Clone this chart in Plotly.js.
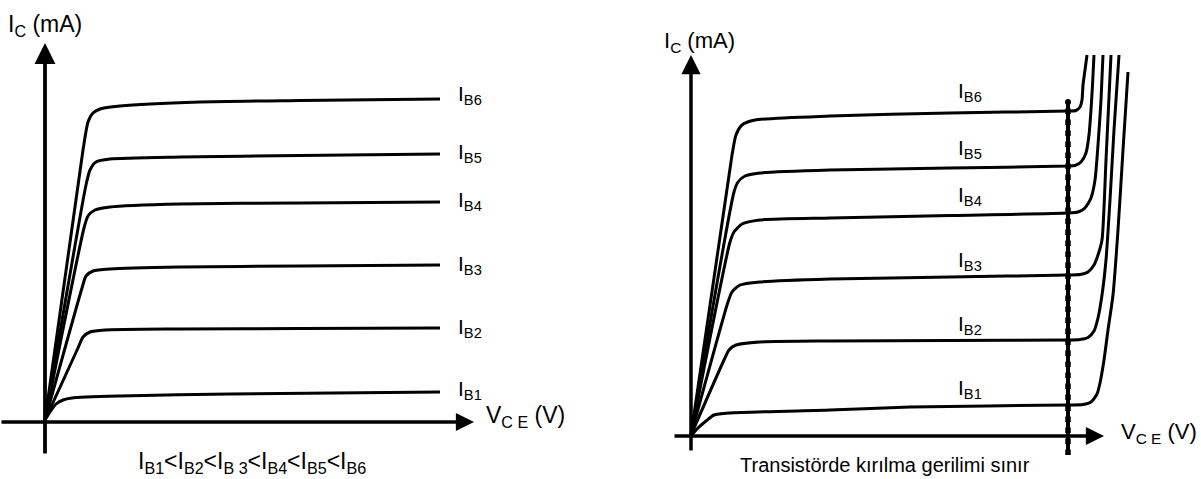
<!DOCTYPE html>
<html>
<head>
<meta charset="utf-8">
<script src="https://cdn.plot.ly/plotly-3.0.1.min.js"></script>
<style>html,body{margin:0;padding:0;background:#fff;}#chart{width:1201px;height:479px;}</style>
</head>
<body>
<div id="chart"></div>
<script>
// ---- Data (schematic units; origin of each chart = 0,0) ----
// Left chart: output characteristics (V_CE vs I_C) for six base currents
const curveNames = ["B1", "B2", "B3", "B4", "B5", "B6"];

const leftB1x = [0, 5, 11, 18, 27, 75, 185, 395];
const leftB1y = [1, 9, 17, 21, 23, 25, 27, 29];
const leftB2x = [0, 33, 38, 45, 60, 135, 255, 395];
const leftB2y = [1, 73, 84, 89, 91, 92, 92.5, 93];
const leftB3x = [0, 37, 41, 48, 65, 135, 255, 395];
const leftB3y = [1, 133, 145, 150, 152, 154, 155, 156];
const leftB4x = [0, 39, 43, 50, 65, 135, 255, 395];
const leftB4y = [1, 193, 205, 211, 214, 217, 218, 219];
const leftB5x = [0, 41, 45, 51, 65, 135, 255, 395];
const leftB5y = [1, 236, 251, 259, 262, 264, 265.5, 267];
const leftB6x = [0, 38, 43, 48, 55, 75, 155, 255, 395];
const leftB6y = [1, 271, 299, 308, 312, 315, 319, 320.5, 322];

// Right chart: same family with breakdown region
const rightB1x = [0, 7, 15, 23, 39, 139, 219, 377, 392, 400, 406, 409, 413, 417, 422, 427, 432, 437];
const rightB1y = [0, 8, 15, 21, 23, 26, 29, 31, 31.5, 34, 42, 53, 76, 106, 141, 206, 286, 364];
const rightB2x = [0, 33, 38, 45, 69, 139, 259, 377, 389, 397, 403, 407, 411, 415, 419, 423, 428];
const rightB2y = [1, 76, 86, 91, 94, 95, 95.5, 96, 96.5, 98.5, 105, 118, 141, 176, 236, 306, 381];
const rightB3x = [0, 37, 41, 49, 69, 139, 259, 377, 389, 397, 403, 407, 411, 415, 420];
const rightB3y = [1, 134, 144, 151, 154, 157, 159, 161, 161.5, 164, 171, 181, 196, 276, 381];
const rightB4x = [0, 39, 43, 51, 69, 139, 259, 377, 387, 394, 400, 404, 407, 410, 412];
const rightB4y = [1, 194, 204, 212, 216, 218, 220.5, 223, 224, 228, 238, 256, 291, 336, 381];
const rightB5x = [0, 43, 47, 54, 69, 139, 259, 377, 384, 390, 395, 398, 400, 401.5, 403];
const rightB5y = [1, 244, 254, 260, 263, 266, 268, 270, 270.5, 274, 283, 301, 326, 351, 381];
const rightB6x = [0, 41, 45, 51, 64, 139, 259, 377, 385, 389, 391, 392, 394, 396];
const rightB6y = [1, 281, 301, 311, 316, 320, 323, 325, 325.5, 329, 336, 351, 366, 381];

// Curve label positions
const leftLabelX = 411;
const leftLabelY = [31, 93, 156, 220, 268, 326];
const rightLabelX = 265;
const rightLabelY = [47, 111, 175, 240, 287, 344];

// Breakdown voltage limit (right chart)
const breakdownX = 377;
const breakdownY = [-19, 334];

// Texts
const yTitle = "I<sub>C</sub> (mA)";
const xTitle = "V<sub>C E</sub> (V)";
const leftNote = "I<sub>B1</sub>&lt;I<sub>B2</sub>&lt;I<sub>B 3</sub>&lt;I<sub>B4</sub>&lt;I<sub>B5</sub>&lt;I<sub>B6</sub>";
const rightNote = "Transistörde kırılma gerilimi sınır";

// ---- Build ----
const FONT = "Liberation Sans, Arial, sans-serif";
const leftX = [leftB1x, leftB2x, leftB3x, leftB4x, leftB5x, leftB6x];
const leftY = [leftB1y, leftB2y, leftB3y, leftB4y, leftB5y, leftB6y];
const rightX = [rightB1x, rightB2x, rightB3x, rightB4x, rightB5x, rightB6x];
const rightY = [rightB1y, rightB2y, rightB3y, rightB4y, rightB5y, rightB6y];

const traces = [];
for (let i = 0; i < 6; i++) {
  traces.push({x: leftX[i], y: leftY[i], xaxis: "x", yaxis: "y", mode: "lines",
    line: {color: "#000", width: 3, shape: "spline", smoothing: 0.6}, hoverinfo: "skip"});
  traces.push({x: rightX[i], y: rightY[i], xaxis: "x2", yaxis: "y2", mode: "lines",
    line: {color: "#000", width: 3, shape: "spline", smoothing: 0.6}, hoverinfo: "skip"});
}
// breakdown line: solid core + beaded outline
traces.push({x: [breakdownX, breakdownX], y: breakdownY, xaxis: "x2", yaxis: "y2", mode: "lines",
  line: {color: "#000", width: 4}, hoverinfo: "skip"});
traces.push({x: [breakdownX, breakdownX], y: breakdownY, xaxis: "x2", yaxis: "y2", mode: "lines",
  line: {color: "#000", width: 5.5, dash: "dot"}, hoverinfo: "skip"});
traces.push({x: [breakdownX], y: [breakdownY[1]], xaxis: "x2", yaxis: "y2", mode: "markers",
  marker: {color: "#000", size: 6}, hoverinfo: "skip"});

const annotations = [];
function arrow(xr, yr, x, y, ax, ay, w) {
  annotations.push({xref: xr, yref: yr, axref: xr, ayref: yr, x: x, y: y, ax: ax, ay: ay,
    showarrow: true, arrowhead: 2, arrowsize: 1.1, arrowwidth: w, arrowcolor: "#000", text: ""});
}
function label(xr, yr, x, y, text, size, xanchor) {
  annotations.push({xref: xr, yref: yr, x: x, y: y, text: text, showarrow: false,
    xanchor: xanchor || "left", yanchor: "middle", font: {family: FONT, size: size, color: "#000"}});
}
// axes with arrows
arrow("x", "y", 0, 378, 0, -34, 3.8);
arrow("x", "y", 429, -1, -45, -1, 3.3);
arrow("x2", "y2", 0, 381, 0, -16, 3.5);
arrow("x2", "y2", 413, 0, -18, 0, 3.3);

for (let i = 0; i < 6; i++) {
  label("x", "y", leftLabelX, leftLabelY[i], "I<sub>" + curveNames[i] + "</sub>", 21);
  label("x2", "y2", rightLabelX, rightLabelY[i], "I<sub>" + curveNames[i] + "</sub>", 21);
}
label("x", "y", -39, 396, yTitle, 23);
label("x", "y", 439, 5, xTitle, 23);
label("x", "y", 207, -41, leftNote, 23, "center");
label("x2", "y2", -29, 394, yTitle, 22);
label("x2", "y2", 428, 3, xTitle, 22);
label("x2", "y2", 194, -29, rightNote, 20, "center");

const hidden = {visible: false, fixedrange: true};
const layout = {
  width: 1201, height: 479,
  margin: {l: 0, r: 0, t: 0, b: 0},
  paper_bgcolor: "#fff", plot_bgcolor: "#fff",
  showlegend: false,
  xaxis: Object.assign({domain: [0, 600 / 1201], range: [-45, 555]}, hidden),
  yaxis: Object.assign({domain: [0, 1], range: [-58, 421]}, hidden),
  xaxis2: Object.assign({domain: [600 / 1201, 1], range: [-91, 510], anchor: "y2"}, hidden),
  yaxis2: Object.assign({domain: [0, 1], range: [-43, 436], anchor: "x2"}, hidden),
  annotations: annotations
};
Plotly.newPlot("chart", traces, layout, {staticPlot: true, displayModeBar: false});
</script>
</body>
</html>
